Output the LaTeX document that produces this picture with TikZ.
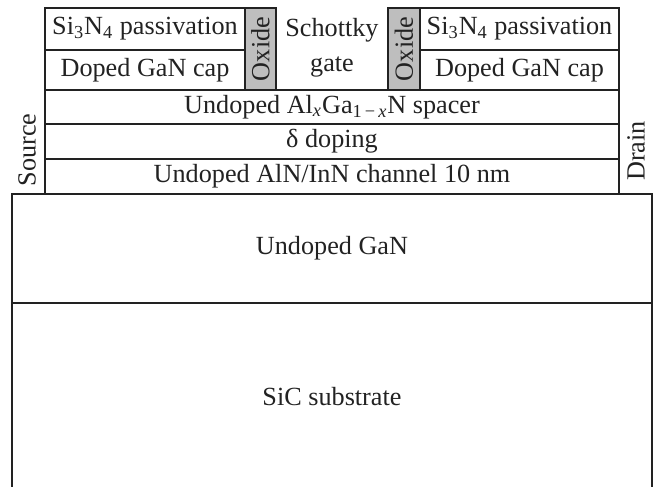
\documentclass[tikz,border=0pt]{standalone}
\usepackage{fontspec}
\setmainfont{Liberation Serif}
\definecolor{ink}{HTML}{222222}
\definecolor{oxg}{HTML}{BEBEBE}

\begin{document}
\begin{tikzpicture}[
  x=0.5pt, y=-0.5pt,
  font=\fontsize{13.1}{17.5}\selectfont,
  layer/.style={draw=ink, line width=1pt},
  oxide/.style={layer, fill=oxg},
  lab/.style={inner sep=0pt, text=ink, align=center},
  side/.style={lab, rotate=90}
]
\clip (0,0) rectangle (653,487);

% ---------------------------------------------------------------- gate region
\draw[layer] (45,8) rectangle (245,50);
\draw[layer] (45,50) rectangle (245,90);
\draw[oxide] (245,8) rectangle (276,90);
\draw[oxide] (388,8) rectangle (420,90);
\draw[layer] (420,8) rectangle (619,50);
\draw[layer] (420,50) rectangle (619,90);
\node[lab] (passL) at (145,29) {Si\textsubscript{3}N\textsubscript{4} passivation};
\node[lab] (capL) at (145,70) {Doped GaN cap};
\node[side] (oxL) at (260.5,49) {Oxide};
\node[lab] (gate) at (332,48) {Schottky\\gate};
\node[side] (oxR) at (404,49) {Oxide};
\node[lab] (passR) at (519.5,29) {Si\textsubscript{3}N\textsubscript{4} passivation};
\node[lab] (capR) at (519.5,70) {Doped GaN cap};

% ---------------------------------------------------------------- barrier and channel
\draw[layer] (45,90) rectangle (619,124);
\draw[layer] (45,124) rectangle (619,159);
\draw[layer] (45,159) rectangle (619,194);
\node[lab] (spacer) at (332,107) {Undoped Al\textsubscript{\textit{x}}Ga\textsubscript{1\,−\,\textit{x}}N spacer};
\node[lab] (delta) at (332,141.5) {δ doping};
\node[lab] (chan) at (332,176.5) {Undoped AlN/InN channel 10 nm};

% ---------------------------------------------------------------- contacts
\node[side] (src) at (27,150) {Source};
\node[side] (drn) at (636,151) {Drain};

% ---------------------------------------------------------------- buffer and substrate
\draw[layer] (12,194) rectangle (652,303);
\draw[layer] (12,303) rectangle (652,500);
\node[lab] (buf) at (332,248) {Undoped GaN};
\node[lab] (sub) at (332,397) {SiC substrate};
\end{tikzpicture}
\end{document}
